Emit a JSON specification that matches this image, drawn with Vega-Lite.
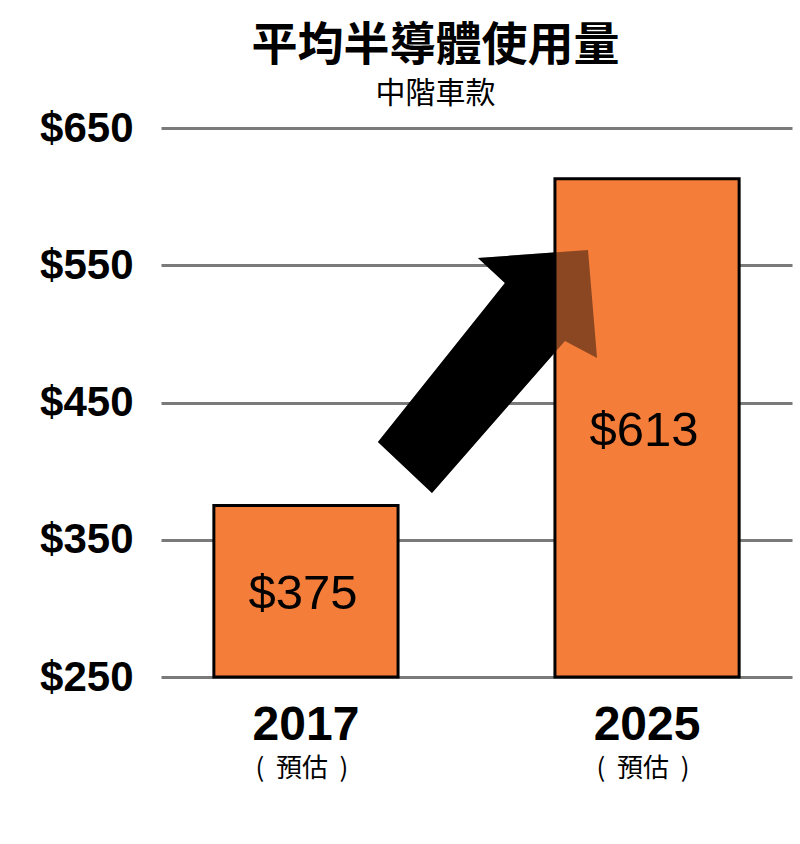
{
  "$schema": "https://vega.github.io/schema/vega-lite/v6.json",
  "width": 631,
  "height": 549,
  "autosize": {"type": "none"},
  "padding": {"left": 161, "top": 128, "right": 8, "bottom": 167},
  "background": "white",
  "config": {"view": {"stroke": null}},
  "title": {
    "text": "平均半導體使用量",
    "subtitle": "中階車款",
    "font": "Noto Sans CJK TC",
    "fontSize": 46,
    "fontWeight": "bold",
    "color": "black",
    "subtitleFont": "Noto Sans CJK TC",
    "subtitleFontSize": 30,
    "subtitleFontWeight": "normal",
    "subtitleColor": "black",
    "subtitlePadding": 9,
    "anchor": "middle",
    "frame": "group",
    "offset": -3,
    "dx": -41
  },
  "datasets": {
    "bars": [
      {"year": "2017", "value": 375, "note": "(\u00a0\u00a0預估\u00a0\u00a0)"},
      {"year": "2025", "value": 613, "note": "(\u00a0\u00a0預估\u00a0\u00a0)"}
    ],
    "arrow": [
      {"pos": 0.5174, "value": 472.6}
    ]
  },
  "resolve": {"scale": {"x": "independent"}},
  "layer": [
    {
      "data": {"name": "arrow"},
      "mark": {
        "type": "point",
        "shape": "M -0.898 0.578 L 0.143 -0.725 L -0.078 -0.930 L 0.824 -0.996 L 0.898 -0.111 L 0.635 -0.250 L -0.455 0.996 Z",
        "size": 59536,
        "filled": true,
        "color": "black",
        "opacity": 1,
        "strokeWidth": 0
      },
      "encoding": {
        "x": {"field": "pos", "type": "quantitative", "scale": {"domain": [0, 1]}, "axis": null},
        "y": {"field": "value", "type": "quantitative", "title": null}
      }
    },
    {
      "data": {"name": "bars"},
      "encoding": {
        "x": {
          "field": "year",
          "type": "nominal",
          "sort": null,
          "title": null,
          "scale": {"paddingInner": 0.46, "paddingOuter": 0.155},
          "axis": {
            "domain": false,
            "ticks": false,
            "labelAngle": 0,
            "labelFont": "Liberation Sans",
            "labelFontSize": 48,
            "labelFontWeight": "bold",
            "labelColor": "black",
            "labelPadding": 24
          }
        }
      },
      "layer": [
        {
          "mark": {"type": "bar", "color": "#F47D3A", "stroke": "black", "strokeWidth": 3},
          "encoding": {
            "y": {
              "field": "value",
              "type": "quantitative",
              "title": null,
              "scale": {"domain": [250, 650], "zero": false, "nice": false},
              "axis": {
                "values": [250, 350, 450, 550, 650],
                "format": "$d",
                "domain": false,
                "ticks": false,
                "grid": true,
                "gridColor": "#7a7a7a",
                "gridWidth": 3,
                "gridOpacity": 1,
                "labelFont": "Liberation Sans",
                "labelFontSize": 42,
                "labelFontWeight": "bold",
                "labelColor": "black",
                "labelPadding": 28
              }
            },
            "y2": {"datum": 250}
          }
        },
        {
          "transform": [{"calculate": "(datum.value + 250) / 2", "as": "mid"}],
          "mark": {"type": "text", "font": "Liberation Sans", "fontSize": 49, "color": "black", "baseline": "middle", "dx": -3, "dy": 3},
          "encoding": {
            "y": {"field": "mid", "type": "quantitative", "title": null},
            "text": {"field": "value", "type": "quantitative", "format": "$d"}
          }
        },
        {
          "mark": {"type": "text", "font": "Noto Sans CJK TC", "fontSize": 26, "color": "black", "baseline": "middle", "dy": 92, "dx": -4},
          "encoding": {
            "y": {"datum": 250},
            "text": {"field": "note"}
          }
        }
      ]
    },
    {
      "data": {"name": "arrow"},
      "mark": {
        "type": "point",
        "shape": "M -0.898 0.578 L 0.143 -0.725 L -0.078 -0.930 L 0.824 -0.996 L 0.898 -0.111 L 0.635 -0.250 L -0.455 0.996 Z",
        "size": 59536,
        "filled": true,
        "color": "black",
        "opacity": 0.43,
        "strokeWidth": 0
      },
      "encoding": {
        "x": {"field": "pos", "type": "quantitative", "scale": {"domain": [0, 1]}, "axis": null},
        "y": {"field": "value", "type": "quantitative", "title": null}
      }
    }
  ]
}
